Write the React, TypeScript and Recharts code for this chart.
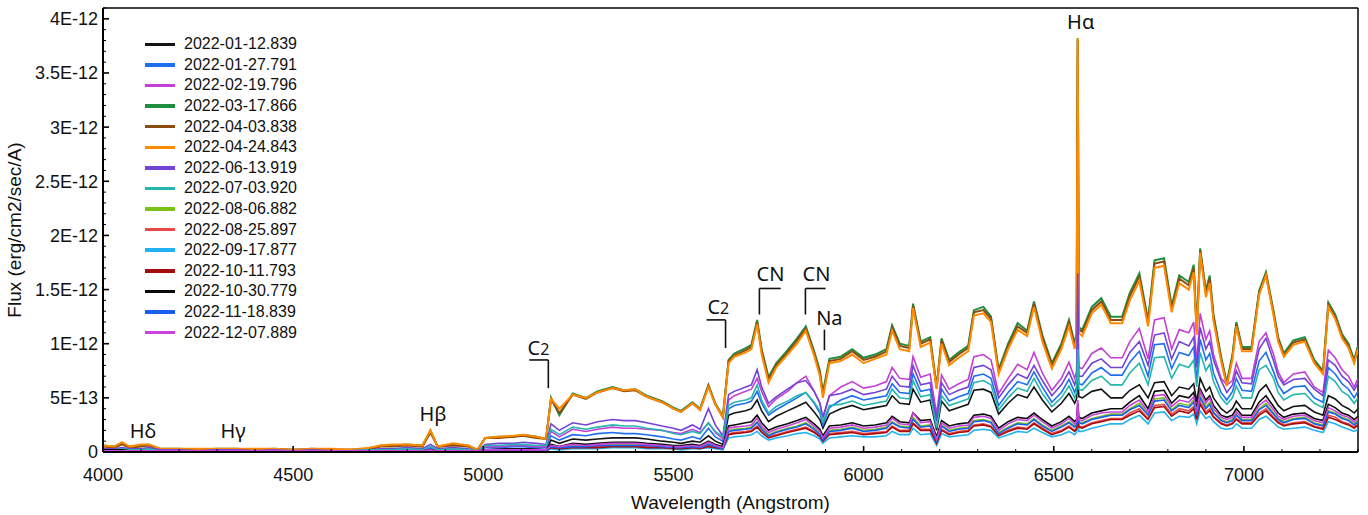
import React from 'react';
import {
  LineChart,
  Line,
  XAxis,
  YAxis,
  Legend,
  ReferenceLine,
  ReferenceDot
} from 'recharts';

// wavelength grid (Angstrom)
const WAVELENGTH = [
  4000, 4030, 4050, 4070, 4100, 4120, 4150, 4200, 4250, 4300,
  4350, 4400, 4450, 4500, 4550, 4600, 4650, 4700, 4730, 4760,
  4800, 4840, 4861, 4880, 4920, 4960, 4985, 5005, 5040, 5080,
  5105, 5140, 5165, 5178, 5200, 5235, 5270, 5300, 5340, 5370,
  5400, 5430, 5470, 5500, 5520, 5550, 5570, 5592, 5610, 5630,
  5645, 5660, 5690, 5705, 5720, 5732, 5750, 5770, 5800, 5825,
  5848, 5870, 5885, 5893, 5910, 5940, 5970, 6000, 6030, 6060,
  6075, 6095, 6120, 6130, 6150, 6175, 6192, 6205, 6225, 6250,
  6275, 6290, 6315, 6335, 6355, 6380, 6405, 6430, 6448, 6470,
  6495, 6520, 6540, 6555, 6560, 6563, 6566, 6575, 6600, 6625,
  6650, 6680, 6700, 6725, 6748, 6765, 6790, 6810, 6830, 6855,
  6868, 6876, 6885, 6900, 6910, 6920, 6940, 6955, 6970, 6980,
  6995, 7020, 7040, 7058, 7078, 7090, 7105, 7130, 7160, 7185,
  7208, 7222, 7240, 7258, 7275, 7290, 7300
];

// flux per epoch, in units of 1E-12 erg/cm2/sec/A
const F_0112 = [
  0.02, 0.02, 0.02, 0.02, 0.02, 0.02, 0.01, 0.01, 0.01, 0.01,
  0.01, 0.01, 0.01, 0.01, 0.01, 0.01, 0.01, 0.01, 0.01, 0.01,
  0.01, 0.01, 0.03, 0.01, 0.01, 0.01, 0.01, 0.02, 0.03, 0.03,
  0.03, 0.03, 0.02, 0.11, 0.08, 0.12, 0.11, 0.12, 0.13, 0.13,
  0.13, 0.12, 0.10, 0.09, 0.08, 0.10, 0.09, 0.15, 0.10, 0.07,
  0.34, 0.36, 0.38, 0.40, 0.48, 0.38, 0.28, 0.33, 0.38, 0.42,
  0.46, 0.37, 0.30, 0.22, 0.35, 0.40, 0.43, 0.39, 0.41, 0.43,
  0.52, 0.45, 0.44, 0.58, 0.46, 0.48, 0.20, 0.47, 0.38, 0.41,
  0.44, 0.57, 0.58, 0.55, 0.35, 0.45, 0.53, 0.50, 0.60, 0.48,
  0.37, 0.45, 0.54, 0.45, 0.49, 0.70, 0.51, 0.50, 0.56, 0.58,
  0.50, 0.50, 0.57, 0.62, 0.50, 0.64, 0.65, 0.52, 0.60, 0.58,
  0.63, 0.46, 0.68, 0.56, 0.60, 0.50, 0.40, 0.36, 0.40, 0.47,
  0.40, 0.40, 0.56, 0.62, 0.50, 0.43, 0.38, 0.42, 0.43, 0.37,
  0.34, 0.52, 0.49, 0.43, 0.40, 0.36, 0.40
];
const F_0127 = [
  0.02, 0.02, 0.03, 0.02, 0.02, 0.02, 0.01, 0.01, 0.01, 0.01,
  0.01, 0.01, 0.01, 0.01, 0.01, 0.01, 0.01, 0.01, 0.02, 0.02,
  0.02, 0.02, 0.04, 0.02, 0.02, 0.02, 0.01, 0.04, 0.04, 0.05,
  0.05, 0.04, 0.04, 0.15, 0.11, 0.16, 0.15, 0.17, 0.18, 0.17,
  0.17, 0.16, 0.14, 0.12, 0.11, 0.14, 0.12, 0.22, 0.14, 0.10,
  0.40, 0.43, 0.45, 0.47, 0.56, 0.45, 0.34, 0.39, 0.45, 0.50,
  0.55, 0.45, 0.36, 0.25, 0.41, 0.48, 0.52, 0.48, 0.50, 0.52,
  0.63, 0.55, 0.54, 0.72, 0.56, 0.58, 0.28, 0.58, 0.47, 0.51,
  0.54, 0.70, 0.72, 0.68, 0.43, 0.55, 0.65, 0.62, 0.74, 0.60,
  0.46, 0.55, 0.67, 0.55, 0.60, 0.90, 0.63, 0.62, 0.73, 0.78,
  0.71, 0.71, 0.83, 0.93, 0.70, 0.99, 1.00, 0.77, 0.92, 0.89,
  0.97, 0.66, 1.04, 0.85, 0.91, 0.73, 0.55, 0.48, 0.56, 0.68,
  0.57, 0.56, 0.84, 0.92, 0.74, 0.62, 0.54, 0.60, 0.61, 0.50,
  0.46, 0.78, 0.72, 0.63, 0.58, 0.50, 0.56
];
const F_0219 = [
  0.02, 0.02, 0.03, 0.02, 0.02, 0.03, 0.01, 0.01, 0.01, 0.01,
  0.01, 0.01, 0.01, 0.01, 0.01, 0.01, 0.01, 0.01, 0.02, 0.02,
  0.02, 0.02, 0.05, 0.02, 0.03, 0.02, 0.01, 0.05, 0.05, 0.06,
  0.06, 0.05, 0.05, 0.19, 0.14, 0.21, 0.19, 0.21, 0.23, 0.22,
  0.22, 0.21, 0.20, 0.18, 0.17, 0.21, 0.18, 0.27, 0.18, 0.12,
  0.48, 0.52, 0.56, 0.58, 0.68, 0.56, 0.42, 0.49, 0.56, 0.64,
  0.70, 0.56, 0.45, 0.31, 0.52, 0.60, 0.65, 0.59, 0.61, 0.65,
  0.78, 0.68, 0.67, 0.88, 0.69, 0.72, 0.35, 0.71, 0.58, 0.63,
  0.67, 0.88, 0.90, 0.85, 0.54, 0.68, 0.81, 0.76, 0.92, 0.73,
  0.57, 0.68, 0.83, 0.68, 0.74, 1.00, 0.78, 0.77, 0.91, 0.96,
  0.87, 0.87, 1.02, 1.14, 0.86, 1.22, 1.24, 0.95, 1.13, 1.10,
  1.20, 0.82, 1.28, 1.04, 1.12, 0.90, 0.68, 0.62, 0.66, 0.82,
  0.68, 0.68, 1.02, 1.10, 0.90, 0.74, 0.64, 0.72, 0.74, 0.60,
  0.55, 0.94, 0.87, 0.76, 0.70, 0.60, 0.68
];
const F_0317 = [
  0.06, 0.05, 0.08, 0.05, 0.06, 0.07, 0.03, 0.03, 0.02, 0.03,
  0.03, 0.02, 0.03, 0.02, 0.03, 0.02, 0.02, 0.03, 0.06, 0.06,
  0.07, 0.06, 0.20, 0.05, 0.07, 0.06, 0.02, 0.13, 0.14, 0.14,
  0.16, 0.14, 0.12, 0.50, 0.34, 0.54, 0.50, 0.56, 0.60, 0.57,
  0.58, 0.52, 0.47, 0.41, 0.38, 0.46, 0.40, 0.62, 0.45, 0.33,
  0.85, 0.91, 0.96, 0.99, 1.22, 0.95, 0.69, 0.82, 0.94, 1.05,
  1.16, 0.93, 0.75, 0.55, 0.86, 0.88, 0.95, 0.87, 0.90, 0.95,
  1.17, 1.00, 0.98, 1.37, 1.02, 1.06, 0.60, 1.05, 0.85, 0.92,
  0.98, 1.31, 1.34, 1.25, 0.76, 1.00, 1.19, 1.12, 1.39, 1.08,
  0.82, 1.00, 1.22, 1.00, 1.10, 3.82, 1.15, 1.13, 1.34, 1.42,
  1.25, 1.25, 1.47, 1.65, 1.22, 1.77, 1.79, 1.35, 1.63, 1.57,
  1.73, 1.13, 1.88, 1.49, 1.63, 1.27, 0.88, 0.64, 0.90, 1.20,
  0.97, 0.97, 1.49, 1.66, 1.30, 1.06, 0.91, 1.03, 1.06, 0.85,
  0.75, 1.38, 1.27, 1.09, 1.00, 0.85, 0.98
];
const F_0403 = [
  0.05, 0.04, 0.07, 0.04, 0.05, 0.06, 0.02, 0.02, 0.02, 0.02,
  0.02, 0.02, 0.02, 0.02, 0.02, 0.02, 0.02, 0.02, 0.05, 0.05,
  0.06, 0.05, 0.18, 0.05, 0.06, 0.05, 0.02, 0.13, 0.13, 0.14,
  0.15, 0.13, 0.12, 0.49, 0.36, 0.53, 0.49, 0.55, 0.59, 0.56,
  0.57, 0.51, 0.46, 0.40, 0.37, 0.45, 0.39, 0.61, 0.44, 0.32,
  0.84, 0.89, 0.94, 0.97, 1.20, 0.93, 0.67, 0.80, 0.92, 1.03,
  1.14, 0.91, 0.73, 0.53, 0.84, 0.86, 0.93, 0.85, 0.88, 0.93,
  1.15, 0.98, 0.96, 1.35, 1.00, 1.04, 0.59, 1.03, 0.83, 0.90,
  0.96, 1.29, 1.31, 1.23, 0.74, 0.98, 1.16, 1.10, 1.37, 1.06,
  0.80, 0.98, 1.20, 0.98, 1.08, 3.80, 1.13, 1.11, 1.31, 1.39,
  1.22, 1.22, 1.44, 1.62, 1.19, 1.74, 1.76, 1.32, 1.60, 1.54,
  1.70, 1.11, 1.86, 1.46, 1.60, 1.24, 0.86, 0.62, 0.88, 1.18,
  0.95, 0.95, 1.47, 1.64, 1.28, 1.04, 0.89, 1.01, 1.04, 0.83,
  0.73, 1.36, 1.25, 1.07, 0.98, 0.83, 0.96
];
const F_0424 = [
  0.06, 0.05, 0.09, 0.05, 0.07, 0.07, 0.03, 0.03, 0.03, 0.03,
  0.03, 0.03, 0.03, 0.02, 0.03, 0.03, 0.02, 0.04, 0.06, 0.07,
  0.07, 0.06, 0.20, 0.05, 0.08, 0.06, 0.02, 0.13, 0.14, 0.15,
  0.16, 0.14, 0.12, 0.49, 0.40, 0.53, 0.50, 0.55, 0.59, 0.57,
  0.58, 0.51, 0.46, 0.40, 0.37, 0.45, 0.39, 0.60, 0.44, 0.32,
  0.82, 0.88, 0.92, 0.95, 1.18, 0.90, 0.64, 0.78, 0.90, 1.00,
  1.12, 0.89, 0.70, 0.50, 0.82, 0.84, 0.90, 0.82, 0.86, 0.90,
  1.12, 0.95, 0.93, 1.33, 0.97, 1.01, 0.58, 1.00, 0.80, 0.87,
  0.93, 1.26, 1.28, 1.20, 0.72, 0.95, 1.13, 1.07, 1.34, 1.02,
  0.77, 0.95, 1.16, 0.95, 1.05, 3.82, 1.10, 1.07, 1.28, 1.36,
  1.19, 1.19, 1.40, 1.58, 1.16, 1.70, 1.72, 1.29, 1.56, 1.50,
  1.66, 1.08, 1.84, 1.43, 1.56, 1.21, 0.84, 0.61, 0.86, 1.16,
  0.93, 0.93, 1.45, 1.63, 1.26, 1.02, 0.88, 0.99, 1.02, 0.82,
  0.72, 1.34, 1.23, 1.05, 0.96, 0.82, 0.95
];
const F_0613 = [
  0.03, 0.03, 0.04, 0.03, 0.03, 0.04, 0.02, 0.02, 0.01, 0.02,
  0.02, 0.01, 0.02, 0.01, 0.02, 0.01, 0.01, 0.02, 0.03, 0.03,
  0.04, 0.03, 0.07, 0.03, 0.04, 0.03, 0.01, 0.07, 0.08, 0.08,
  0.09, 0.08, 0.07, 0.26, 0.20, 0.27, 0.25, 0.28, 0.30, 0.29,
  0.29, 0.27, 0.24, 0.22, 0.20, 0.25, 0.21, 0.40, 0.25, 0.15,
  0.53, 0.56, 0.60, 0.62, 0.76, 0.60, 0.45, 0.51, 0.58, 0.64,
  0.66, 0.56, 0.45, 0.32, 0.52, 0.54, 0.58, 0.53, 0.55, 0.58,
  0.70, 0.61, 0.60, 0.80, 0.62, 0.64, 0.30, 0.64, 0.53, 0.57,
  0.60, 0.78, 0.80, 0.76, 0.50, 0.62, 0.72, 0.68, 0.80, 0.66,
  0.52, 0.62, 0.74, 0.62, 0.68, 1.65, 0.70, 0.70, 0.82, 0.86,
  0.78, 0.78, 0.92, 1.02, 0.80, 1.08, 1.10, 0.86, 1.02, 0.98,
  1.06, 0.78, 1.15, 0.95, 1.02, 0.85, 0.66, 0.55, 0.62, 0.75,
  0.64, 0.63, 0.95, 1.05, 0.84, 0.70, 0.62, 0.67, 0.68, 0.58,
  0.52, 0.85, 0.80, 0.70, 0.65, 0.57, 0.64
];
const F_0703 = [
  0.02, 0.02, 0.03, 0.02, 0.02, 0.03, 0.01, 0.01, 0.01, 0.01,
  0.01, 0.01, 0.01, 0.01, 0.01, 0.01, 0.01, 0.02, 0.02, 0.02,
  0.03, 0.02, 0.05, 0.02, 0.03, 0.02, 0.01, 0.06, 0.06, 0.07,
  0.07, 0.06, 0.06, 0.21, 0.16, 0.23, 0.21, 0.23, 0.25, 0.24,
  0.24, 0.22, 0.20, 0.17, 0.16, 0.19, 0.17, 0.27, 0.19, 0.14,
  0.43, 0.46, 0.48, 0.50, 0.62, 0.48, 0.36, 0.42, 0.47, 0.52,
  0.55, 0.46, 0.38, 0.28, 0.43, 0.44, 0.47, 0.43, 0.45, 0.47,
  0.58, 0.50, 0.49, 0.66, 0.51, 0.53, 0.22, 0.52, 0.43, 0.46,
  0.49, 0.64, 0.66, 0.62, 0.39, 0.50, 0.59, 0.56, 0.68, 0.54,
  0.42, 0.50, 0.61, 0.50, 0.55, 0.95, 0.58, 0.57, 0.66, 0.70,
  0.62, 0.62, 0.73, 0.82, 0.62, 0.87, 0.88, 0.68, 0.81, 0.78,
  0.85, 0.60, 0.92, 0.75, 0.81, 0.65, 0.50, 0.44, 0.50, 0.61,
  0.50, 0.50, 0.76, 0.80, 0.68, 0.55, 0.48, 0.53, 0.54, 0.45,
  0.41, 0.70, 0.65, 0.56, 0.52, 0.45, 0.50
];
const F_0806 = [
  0.01, 0.01, 0.01, 0.01, 0.01, 0.01, 0.01, 0.01, 0.01, 0.01,
  0.01, 0.01, 0.01, 0.01, 0.01, 0.01, 0.01, 0.01, 0.01, 0.01,
  0.01, 0.01, 0.01, 0.01, 0.01, 0.01, 0.01, 0.01, 0.02, 0.02,
  0.02, 0.02, 0.01, 0.05, 0.04, 0.06, 0.05, 0.06, 0.07, 0.07,
  0.07, 0.06, 0.05, 0.05, 0.04, 0.05, 0.05, 0.08, 0.05, 0.04,
  0.20, 0.21, 0.22, 0.23, 0.28, 0.22, 0.16, 0.19, 0.22, 0.24,
  0.27, 0.22, 0.17, 0.12, 0.20, 0.21, 0.23, 0.20, 0.21, 0.23,
  0.28, 0.24, 0.23, 0.32, 0.24, 0.25, 0.11, 0.25, 0.20, 0.22,
  0.23, 0.29, 0.30, 0.28, 0.18, 0.23, 0.27, 0.26, 0.31, 0.25,
  0.20, 0.24, 0.28, 0.24, 0.26, 0.40, 0.28, 0.27, 0.31, 0.33,
  0.35, 0.35, 0.40, 0.45, 0.35, 0.49, 0.50, 0.39, 0.45, 0.43,
  0.48, 0.35, 0.52, 0.42, 0.46, 0.37, 0.30, 0.28, 0.30, 0.35,
  0.30, 0.30, 0.40, 0.45, 0.36, 0.31, 0.28, 0.31, 0.32, 0.27,
  0.25, 0.38, 0.36, 0.32, 0.30, 0.26, 0.29
];
const F_0825 = [
  0.01, 0.01, 0.01, 0.01, 0.01, 0.01, 0.01, 0.01, 0.01, 0.01,
  0.01, 0.01, 0.01, 0.01, 0.01, 0.01, 0.01, 0.01, 0.01, 0.01,
  0.01, 0.01, 0.01, 0.01, 0.01, 0.01, 0.01, 0.01, 0.01, 0.01,
  0.01, 0.01, 0.01, 0.04, 0.03, 0.05, 0.04, 0.05, 0.05, 0.05,
  0.05, 0.05, 0.04, 0.04, 0.03, 0.04, 0.04, 0.06, 0.04, 0.03,
  0.17, 0.18, 0.19, 0.20, 0.24, 0.19, 0.14, 0.16, 0.19, 0.21,
  0.23, 0.19, 0.15, 0.10, 0.17, 0.18, 0.19, 0.17, 0.18, 0.19,
  0.24, 0.20, 0.20, 0.27, 0.21, 0.21, 0.09, 0.21, 0.17, 0.19,
  0.20, 0.25, 0.26, 0.24, 0.16, 0.20, 0.23, 0.22, 0.27, 0.22,
  0.17, 0.20, 0.24, 0.20, 0.22, 0.34, 0.24, 0.23, 0.27, 0.29,
  0.31, 0.31, 0.36, 0.40, 0.31, 0.43, 0.44, 0.35, 0.40, 0.38,
  0.42, 0.31, 0.46, 0.37, 0.40, 0.33, 0.27, 0.25, 0.27, 0.31,
  0.27, 0.27, 0.36, 0.40, 0.32, 0.28, 0.25, 0.27, 0.28, 0.24,
  0.22, 0.34, 0.32, 0.28, 0.26, 0.23, 0.26
];
const F_0917 = [
  0.01, 0.01, 0.01, 0.01, 0.01, 0.01, 0.00, 0.00, 0.00, 0.00,
  0.00, 0.00, 0.00, 0.00, 0.00, 0.00, 0.00, 0.00, 0.01, 0.01,
  0.01, 0.01, 0.01, 0.01, 0.01, 0.01, 0.00, 0.01, 0.01, 0.01,
  0.01, 0.01, 0.01, 0.03, 0.02, 0.03, 0.03, 0.03, 0.04, 0.04,
  0.04, 0.03, 0.03, 0.03, 0.02, 0.03, 0.03, 0.04, 0.03, 0.02,
  0.13, 0.14, 0.15, 0.16, 0.19, 0.15, 0.11, 0.13, 0.15, 0.17,
  0.18, 0.15, 0.12, 0.08, 0.13, 0.14, 0.15, 0.14, 0.14, 0.15,
  0.19, 0.16, 0.16, 0.22, 0.16, 0.17, 0.06, 0.17, 0.14, 0.15,
  0.16, 0.20, 0.21, 0.20, 0.13, 0.16, 0.19, 0.18, 0.22, 0.18,
  0.14, 0.16, 0.19, 0.16, 0.18, 0.28, 0.19, 0.19, 0.22, 0.24,
  0.26, 0.26, 0.30, 0.34, 0.26, 0.36, 0.37, 0.29, 0.33, 0.32,
  0.35, 0.26, 0.38, 0.31, 0.33, 0.28, 0.22, 0.21, 0.22, 0.26,
  0.22, 0.22, 0.30, 0.33, 0.27, 0.23, 0.21, 0.22, 0.23, 0.20,
  0.18, 0.28, 0.26, 0.23, 0.21, 0.19, 0.21
];
const F_1011 = [
  0.01, 0.01, 0.01, 0.01, 0.01, 0.01, 0.01, 0.01, 0.01, 0.01,
  0.01, 0.01, 0.01, 0.01, 0.01, 0.01, 0.01, 0.01, 0.01, 0.01,
  0.01, 0.01, 0.01, 0.01, 0.01, 0.01, 0.01, 0.01, 0.01, 0.01,
  0.01, 0.01, 0.01, 0.04, 0.03, 0.04, 0.04, 0.04, 0.05, 0.05,
  0.05, 0.04, 0.04, 0.03, 0.03, 0.04, 0.03, 0.05, 0.04, 0.03,
  0.16, 0.17, 0.18, 0.19, 0.23, 0.18, 0.13, 0.15, 0.18, 0.20,
  0.22, 0.18, 0.14, 0.10, 0.16, 0.17, 0.18, 0.16, 0.17, 0.18,
  0.23, 0.19, 0.19, 0.26, 0.20, 0.20, 0.08, 0.20, 0.16, 0.18,
  0.19, 0.24, 0.25, 0.23, 0.15, 0.19, 0.22, 0.21, 0.26, 0.21,
  0.16, 0.19, 0.23, 0.19, 0.21, 0.32, 0.23, 0.22, 0.26, 0.28,
  0.30, 0.30, 0.34, 0.38, 0.30, 0.41, 0.42, 0.33, 0.38, 0.36,
  0.40, 0.30, 0.44, 0.35, 0.38, 0.32, 0.26, 0.24, 0.26, 0.30,
  0.26, 0.26, 0.34, 0.38, 0.31, 0.27, 0.24, 0.26, 0.27, 0.23,
  0.21, 0.32, 0.30, 0.27, 0.25, 0.22, 0.25
];
const F_1030 = [
  0.02, 0.02, 0.02, 0.01, 0.01, 0.01, 0.01, 0.01, 0.01, 0.01,
  0.01, 0.01, 0.01, 0.01, 0.01, 0.01, 0.01, 0.01, 0.01, 0.01,
  0.01, 0.01, 0.02, 0.01, 0.01, 0.01, 0.01, 0.02, 0.02, 0.02,
  0.02, 0.02, 0.02, 0.07, 0.05, 0.08, 0.07, 0.08, 0.09, 0.09,
  0.09, 0.08, 0.07, 0.06, 0.06, 0.07, 0.06, 0.10, 0.07, 0.05,
  0.24, 0.25, 0.27, 0.28, 0.34, 0.27, 0.20, 0.23, 0.26, 0.29,
  0.32, 0.26, 0.21, 0.15, 0.24, 0.25, 0.27, 0.24, 0.25, 0.27,
  0.33, 0.28, 0.27, 0.36, 0.29, 0.30, 0.14, 0.29, 0.24, 0.26,
  0.27, 0.34, 0.35, 0.33, 0.22, 0.28, 0.32, 0.31, 0.36, 0.30,
  0.24, 0.28, 0.33, 0.28, 0.30, 0.45, 0.32, 0.31, 0.36, 0.38,
  0.40, 0.40, 0.46, 0.52, 0.40, 0.56, 0.57, 0.45, 0.52, 0.50,
  0.55, 0.40, 0.58, 0.48, 0.52, 0.43, 0.34, 0.32, 0.34, 0.40,
  0.34, 0.34, 0.46, 0.52, 0.42, 0.36, 0.32, 0.35, 0.36, 0.31,
  0.29, 0.44, 0.41, 0.36, 0.34, 0.30, 0.33
];
const F_1118 = [
  0.01, 0.01, 0.01, 0.01, 0.01, 0.01, 0.01, 0.01, 0.01, 0.01,
  0.01, 0.01, 0.01, 0.01, 0.01, 0.01, 0.01, 0.01, 0.01, 0.01,
  0.01, 0.01, 0.01, 0.01, 0.01, 0.01, 0.01, 0.01, 0.02, 0.02,
  0.02, 0.02, 0.01, 0.05, 0.04, 0.05, 0.05, 0.06, 0.06, 0.06,
  0.06, 0.06, 0.05, 0.04, 0.04, 0.05, 0.04, 0.07, 0.05, 0.03,
  0.19, 0.20, 0.21, 0.22, 0.27, 0.21, 0.15, 0.18, 0.21, 0.23,
  0.26, 0.21, 0.16, 0.11, 0.19, 0.20, 0.22, 0.19, 0.20, 0.22,
  0.27, 0.23, 0.22, 0.30, 0.23, 0.24, 0.10, 0.24, 0.19, 0.21,
  0.22, 0.28, 0.29, 0.27, 0.17, 0.22, 0.26, 0.25, 0.30, 0.24,
  0.19, 0.23, 0.27, 0.23, 0.25, 0.38, 0.27, 0.26, 0.30, 0.32,
  0.34, 0.34, 0.39, 0.43, 0.34, 0.47, 0.48, 0.38, 0.43, 0.41,
  0.46, 0.34, 0.50, 0.40, 0.44, 0.36, 0.29, 0.27, 0.29, 0.34,
  0.29, 0.29, 0.39, 0.43, 0.35, 0.30, 0.27, 0.30, 0.31, 0.26,
  0.24, 0.37, 0.35, 0.31, 0.29, 0.25, 0.28
];
const F_1207 = [
  0.01, 0.01, 0.01, 0.01, 0.01, 0.01, 0.01, 0.01, 0.01, 0.01,
  0.01, 0.01, 0.01, 0.01, 0.01, 0.01, 0.01, 0.01, 0.01, 0.01,
  0.01, 0.01, 0.02, 0.01, 0.01, 0.01, 0.01, 0.02, 0.02, 0.02,
  0.02, 0.02, 0.02, 0.06, 0.05, 0.07, 0.06, 0.07, 0.08, 0.08,
  0.08, 0.07, 0.06, 0.05, 0.05, 0.06, 0.05, 0.09, 0.06, 0.04,
  0.22, 0.23, 0.24, 0.25, 0.31, 0.24, 0.18, 0.21, 0.24, 0.27,
  0.30, 0.24, 0.19, 0.13, 0.22, 0.23, 0.25, 0.22, 0.23, 0.25,
  0.31, 0.26, 0.25, 0.36, 0.27, 0.28, 0.12, 0.27, 0.22, 0.24,
  0.25, 0.32, 0.33, 0.31, 0.20, 0.26, 0.30, 0.29, 0.34, 0.28,
  0.22, 0.26, 0.31, 0.26, 0.28, 0.48, 0.30, 0.29, 0.34, 0.36,
  0.37, 0.37, 0.43, 0.48, 0.37, 0.52, 0.53, 0.42, 0.48, 0.46,
  0.51, 0.37, 0.56, 0.45, 0.50, 0.40, 0.32, 0.30, 0.32, 0.37,
  0.32, 0.32, 0.43, 0.48, 0.39, 0.33, 0.30, 0.33, 0.34, 0.29,
  0.27, 0.41, 0.38, 0.34, 0.32, 0.28, 0.31
];

const SERIES = [
  { name: '2022-01-12.839', color: '#141414', values: F_0112 },
  { name: '2022-01-27.791', color: '#1f6ff2', values: F_0127 },
  { name: '2022-02-19.796', color: '#c43fd6', values: F_0219 },
  { name: '2022-03-17.866', color: '#1f8f3f', values: F_0317 },
  { name: '2022-04-03.838', color: '#8c4c10', values: F_0403 },
  { name: '2022-04-24.843', color: '#ff8a00', values: F_0424 },
  { name: '2022-06-13.919', color: '#7443d6', values: F_0613 },
  { name: '2022-07-03.920', color: '#25b6ae', values: F_0703 },
  { name: '2022-08-06.882', color: '#7cc21a', values: F_0806 },
  { name: '2022-08-25.897', color: '#e84848', values: F_0825 },
  { name: '2022-09-17.877', color: '#22b2f2', values: F_0917 },
  { name: '2022-10-11.793', color: '#a30d0d', values: F_1011 },
  { name: '2022-10-30.779', color: '#0a0a0a', values: F_1030 },
  { name: '2022-11-18.839', color: '#1860f0', values: F_1118 },
  { name: '2022-12-07.889', color: '#cb42da', values: F_1207 }
];

// x ticks every 100 A, labelled every 500 A
const X_TICKS = Array.from({ length: 34 }, (_, i) => 4000 + i * 100);
// y ticks every 1E-13, labelled every 5E-13
const Y_TICKS = Array.from({ length: 42 }, (_, i) => i * 1e-13);
const Y_LABELS = ['0', '5E-13', '1E-12', '1.5E-12', '2E-12', '2.5E-12', '3E-12', '3.5E-12', '4E-12'];

// line identifications (positions in wavelength / 1E-12 flux)
const LINE_LABELS = [
  { text: 'Hδ', x: 4105, y: 0.2 },
  { text: 'Hγ', x: 4342, y: 0.2 },
  { text: 'Hβ', x: 4868, y: 0.35 },
  { text: 'C2', x: 5145, y: 0.96 },
  { text: 'C2', x: 5618, y: 1.34 },
  { text: 'CN', x: 5755, y: 1.65 },
  { text: 'CN', x: 5876, y: 1.65 },
  { text: 'Na', x: 5910, y: 1.24 },
  { text: 'Hα', x: 6571, y: 3.97 }
];
const BRACKETS = [
  [[5121, 0.85], [5171, 0.85], [5171, 0.59]],
  [[5587, 1.22], [5637, 1.22], [5637, 0.96]],
  [[5782, 1.51], [5726, 1.51], [5726, 1.27]],
  [[5900, 1.51], [5847, 1.51], [5847, 1.27]],
  [[5897, 1.13], [5897, 0.94]]
];

const FONT = '"Liberation Sans", Arial, sans-serif';

const rows = WAVELENGTH.map((w, i) => {
  const row: Record<string, number> = { w };
  SERIES.forEach((s, k) => {
    row['s' + k] = s.values[i] * 1e-12;
  });
  return row;
});

const X_MARGIN = 16;
const Y_MARGIN = 5;

function XTick(props: any) {
  const { x, y, payload } = props;
  const major = payload.value % 500 === 0;
  const axisY = y - X_MARGIN;
  return (
    <g>
      <line x1={x} x2={x} y1={axisY} y2={axisY - (major ? 6 : 3)} stroke="#000" strokeWidth={major ? 1.6 : 1} />
      {major && (
        <text x={x} y={y} dy="0.72em" textAnchor="middle" fontSize={18} fill="#111" fontFamily={FONT}>
          {payload.value}
        </text>
      )}
    </g>
  );
}

function YTick(props: any) {
  const { x, y, index } = props;
  const major = index % 5 === 0;
  const axisX = x + Y_MARGIN;
  return (
    <g>
      <line x1={axisX} x2={axisX + (major ? 6 : 3)} y1={y} y2={y} stroke="#000" strokeWidth={major ? 1.6 : 1} />
      {major && (
        <text x={x} y={y} dy="0.36em" textAnchor="end" fontSize={18} fill="#111" fontFamily={FONT}>
          {Y_LABELS[index / 5]}
        </text>
      )}
    </g>
  );
}

function AnnotLabel(props: any) {
  const { viewBox, text } = props;
  const cx = viewBox.x + viewBox.width / 2;
  const cy = viewBox.y + viewBox.height / 2;
  const isC2 = text === 'C2';
  return (
    <text
      x={cx}
      y={cy}
      dy="0.36em"
      textAnchor="middle"
      fontFamily='"Noto Sans", "Open Sans", sans-serif'
      fontSize={20}
      fill="#111"
    >
      {isC2 ? (
        <>
          C<tspan fontSize={16}>2</tspan>
        </>
      ) : (
        text
      )}
    </text>
  );
}

function SeriesLegend() {
  return (
    <div style={{ fontFamily: FONT, fontSize: 16, color: '#111' }}>
      {SERIES.map((s) => (
        <div key={s.name} style={{ display: 'flex', alignItems: 'center', height: 20.6 }}>
          <span style={{ display: 'inline-block', width: 30, height: 3.5, background: s.color, marginRight: 9 }} />
          <span>{s.name}</span>
        </div>
      ))}
    </div>
  );
}

export default function App() {
  return (
    <div>
      <style>{'body{margin:0;background:#fff}'}</style>
      <LineChart
        width={1368}
        height={515}
        data={rows}
        margin={{ top: 8, right: 10, left: 0, bottom: 0 }}
        style={{ fontFamily: FONT }}
      >
        <XAxis
          dataKey="w"
          type="number"
          domain={[4000, 7300]}
          allowDataOverflow
          ticks={X_TICKS}
          interval={0}
          tickLine={false}
          tickSize={0}
          tickMargin={X_MARGIN}
          height={63}
          axisLine={{ stroke: '#000', strokeWidth: 2 }}
          tick={<XTick />}
          label={{ value: 'Wavelength (Angstrom)', position: 'insideBottom', offset: 6, fontSize: 19, fill: '#111' }}
        />
        <YAxis
          type="number"
          domain={[0, 4.1e-12]}
          allowDataOverflow
          ticks={Y_TICKS}
          interval={0}
          width={103}
          tickLine={false}
          tickSize={0}
          tickMargin={Y_MARGIN}
          axisLine={{ stroke: '#000', strokeWidth: 2 }}
          tick={<YTick />}
          label={{
            value: 'Flux (erg/cm2/sec/A)',
            angle: -90,
            position: 'insideLeft',
            offset: 14,
            fontSize: 19,
            fill: '#111',
            style: { textAnchor: 'middle' }
          }}
        />
        <ReferenceLine y={4.1e-12} stroke="#000" strokeWidth={1.5} />
        <ReferenceLine x={7300} stroke="#000" strokeWidth={1.5} />
        {SERIES.map((s, k) => (
          <Line
            key={s.name}
            type="linear"
            dataKey={'s' + k}
            name={s.name}
            stroke={s.color}
            strokeWidth={k >= 3 && k <= 5 ? 2 : 1.6}
            dot={false}
            isAnimationActive={false}
          />
        ))}
        {BRACKETS.map((pts, b) =>
          pts.slice(1).map((p, j) => (
            <ReferenceLine
              key={'br' + b + '-' + j}
              segment={[
                { x: pts[j][0], y: pts[j][1] * 1e-12 },
                { x: p[0], y: p[1] * 1e-12 }
              ]}
              stroke="#111"
              strokeWidth={1.6}
            />
          ))
        )}
        {LINE_LABELS.map((a, i) => (
          <ReferenceDot
            key={'lb' + i}
            x={a.x}
            y={a.y * 1e-12}
            r={1}
            fill="none"
            stroke="none"
            label={<AnnotLabel text={a.text} />}
          />
        ))}
        <Legend
          layout="vertical"
          align="center"
          verticalAlign="middle"
          wrapperStyle={{ left: 145, top: 34 }}
          content={() => <SeriesLegend />}
        />
      </LineChart>
    </div>
  );
}
